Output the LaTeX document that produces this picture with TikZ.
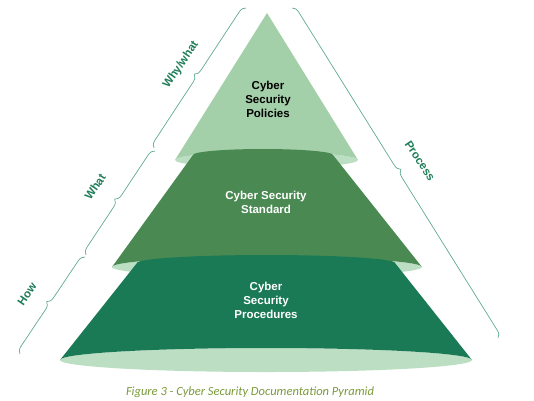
\documentclass[tikz,border=0pt]{standalone}
\usepackage{xcolor}
\usepackage{fontspec}
\setmainfont{Liberation Sans}
\newfontfamily\capfont{Carlito}
\usepackage{tikz}
\usetikzlibrary{decorations.pathreplacing}
\definecolor{tiertop}{HTML}{A3CFA9}
\definecolor{tiermid}{HTML}{4A8A52}
\definecolor{tierlow}{HTML}{1B7A56}
\definecolor{tierlight}{HTML}{BCDFC4}
\definecolor{braceline}{HTML}{5FAB90}
\definecolor{bracetext}{HTML}{1E7D58}
\definecolor{captext}{HTML}{7A9A3A}
\tikzset{tierlabel/.style={align=center, font=\fontsize{11.5}{14}\selectfont\bfseries}}
\tikzset{bracelabel/.style={text=bracetext, font=\fontsize{11.5}{14}\selectfont\bfseries}}
\tikzset{bracket/.style={decorate, decoration={brace, amplitude=7pt}, draw=braceline, line width=0.7pt}}

\begin{document}
\begin{tikzpicture}[x=1pt,y=-1pt]
\useasboundingbox (0,0) rectangle (534,400);
%\draw[-,color=black,dashed] (0,0) grid[step=50] (534,400);
\fill[tierlight] (266.5,160) ellipse[x radius=91.5, y radius=8];
\fill[tiertop] (267,13) -- (358,160) arc[start angle=0, end angle=-180, x radius=91.5, y radius=8] -- cycle;
\fill[tierlight] (267,267) ellipse[x radius=155, y radius=10];
\fill[tiermid] (193,155) arc[start angle=180, end angle=360, x radius=70, y radius=6] -- (422,267) arc[start angle=0, end angle=-180, x radius=155, y radius=10] -- cycle;
\fill[tierlight] (266,360) ellipse[x radius=206, y radius=12];
\fill[tierlow] (137,263) arc[start angle=180, end angle=360, x radius=129, y radius=8] -- (472,360) arc[start angle=0, end angle=-180, x radius=206, y radius=12] -- cycle;
\node[tierlabel, text=black] (policies) at (268,99) {Cyber\\Security\\Policies};
\node[tierlabel, text=white] (standard) at (266,202) {Cyber Security\\Standard};
\node[tierlabel, text=white] (procedures) at (266,300) {Cyber\\Security\\Procedures};
\coordinate (whyT) at (246,8);
\coordinate (whyB) at (154,148);
\coordinate (whatT) at (155,151);
\coordinate (whatB) at (86,255);
\coordinate (howT) at (85,257);
\coordinate (howB) at (20,354);
\coordinate (procT) at (292,8);
\coordinate (procB) at (498,338);
\draw[bracket] (whyB) -- (whyT);
\draw[bracket] (whatB) -- (whatT);
\draw[bracket] (howB) -- (howT);
\draw[bracket] (procT) -- (procB);
\node[bracelabel, rotate=56] (whywhat) at (181,65) {Why/what};
\node[bracelabel, rotate=56] (what) at (95,187) {What};
\node[bracelabel, rotate=56] (how) at (27,294) {How};
\node[bracelabel, rotate=-56] (process) at (420,161) {Process};
\node[font=\capfont\itshape\fontsize{12.5}{15}\selectfont, text=captext] (caption) at (250,392) {Figure 3 - Cyber Security Documentation Pyramid};
\end{tikzpicture}
\end{document}
